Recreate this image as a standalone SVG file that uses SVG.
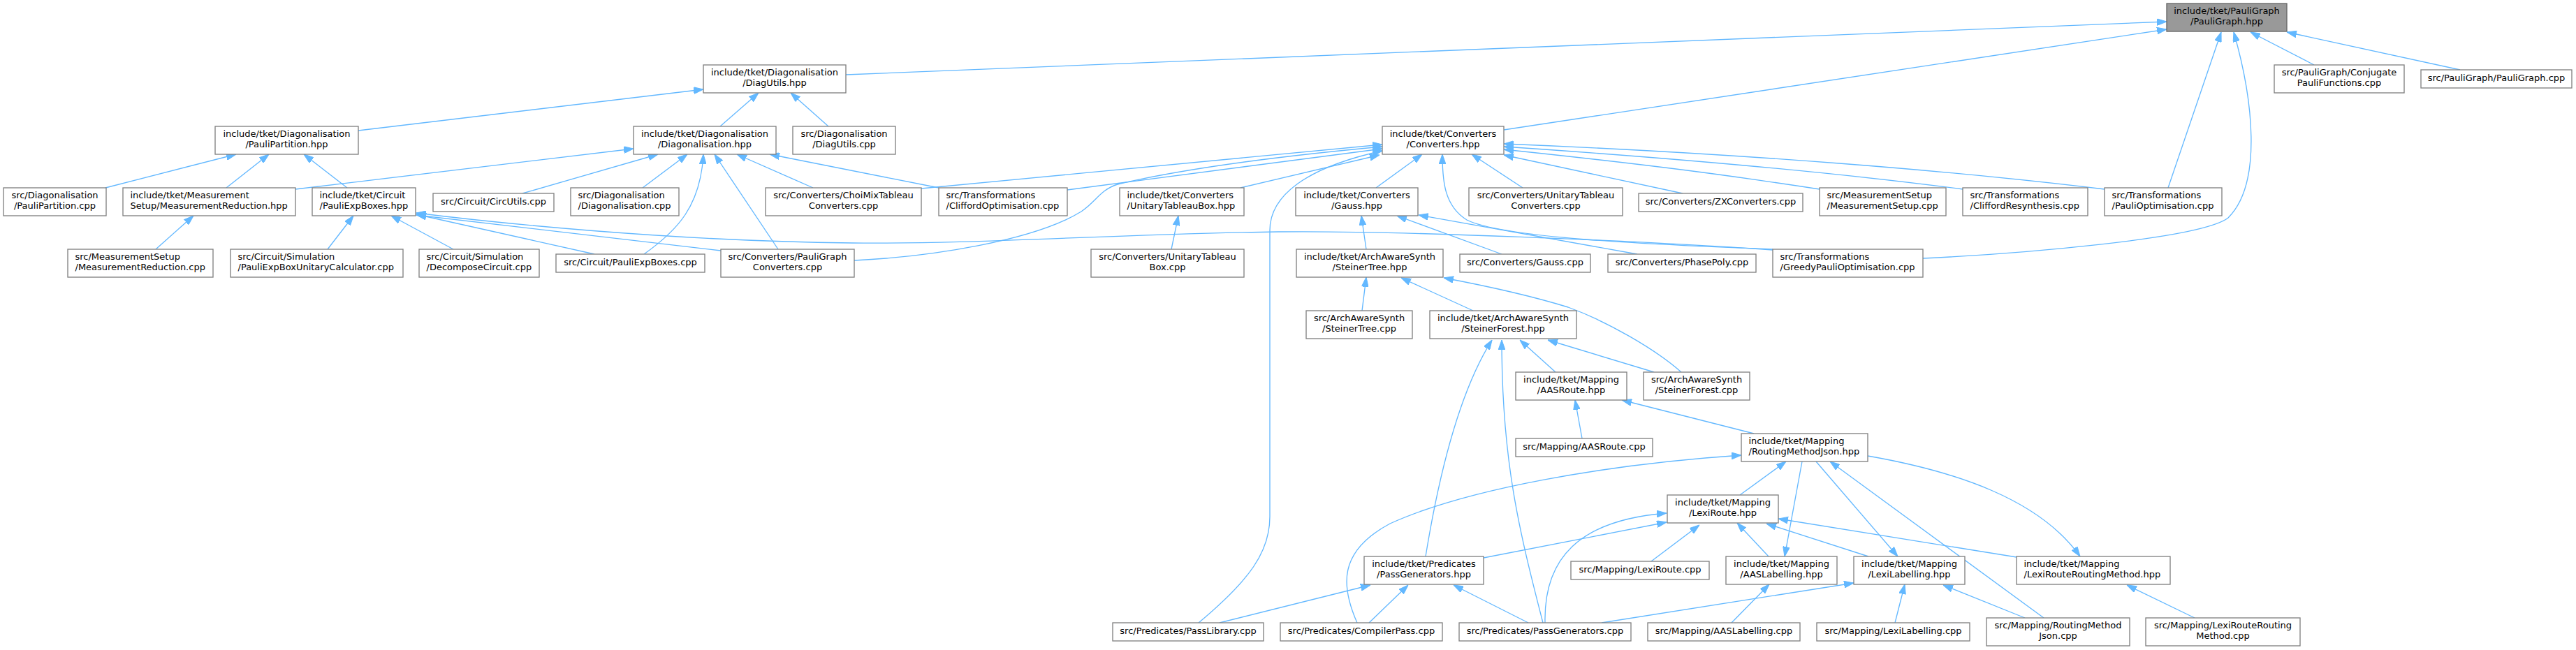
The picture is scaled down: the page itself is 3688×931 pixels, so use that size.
<svg xmlns="http://www.w3.org/2000/svg" width="3688" height="931" viewBox="0 0 3688 931">
<style>
.n rect{fill:#fff;stroke:#808080;stroke-width:1.33}
.m rect{fill:#999;stroke:#666;stroke-width:1.33}
text{font-family:"DejaVu Sans",sans-serif;font-size:13px;fill:#000}
.c text{text-anchor:middle}
.l text{text-anchor:start}
#edges path{fill:none;stroke:#63b8ff;stroke-width:1.33;marker-end:url(#a)}
</style>
<defs>
<marker id="a" markerUnits="userSpaceOnUse" markerWidth="14" markerHeight="10" refX="13.3" refY="4.65" orient="auto" viewBox="0 0 13.3 9.3">
<path d="M0,0 L13.3,4.65 L0,9.3 z" fill="#63b8ff" stroke="#63b8ff" stroke-width="1"/>
</marker>
</defs>
<rect width="3688" height="931" fill="#fff"/>
<g id="edges">
<path d="M1211,107 L3102,31"/>
<path d="M2153,186 L3102,42"/>
<path d="M3104,269 L3180,46"/>
<path d="M2753,370 C2880,364 3150,343 3190,312 C3240,262 3225,140 3198,46"/>
<path d="M3313,93 L3222,46"/>
<path d="M3522,100 L3274,46"/>
<path d="M513,187 L1007,128"/>
<path d="M1031,181 L1086,133"/>
<path d="M1186,181 L1132,133"/>
<path d="M151,269 L338,221"/>
<path d="M324,269 L385,221"/>
<path d="M497,269 L435,221"/>
<path d="M423,271 L907,213"/>
<path d="M748,277 L942,221"/>
<path d="M920,269 L984,221"/>
<path d="M922,364 C970,330 1003,295 1007,221"/>
<path d="M1114,357 L1023,221"/>
<path d="M1164,269 L1055,221"/>
<path d="M1344,269 L1102,221"/>
<path d="M469,357 L506,309"/>
<path d="M649,357 L560,309"/>
<path d="M851,364 L596,307"/>
<path d="M1032,359 L596,308"/>
<path d="M2538,358 C2350,345 2000,330 1830,332 C1600,335 1400,350 1220,348 C950,345 700,318 596,305"/>
<path d="M2538,357 C2350,350 2150,340 2100,315 C2068,295 2065,260 2065,221"/>
<path d="M1223,373 C1330,368 1480,345 1548,303 C1570,288 1575,272 1600,264 C1700,240 1850,222 1979,210"/>
<path d="M1319,270 L1979,207"/>
<path d="M1528,272 L1979,213"/>
<path d="M1776,269 L1975,222"/>
<path d="M1716,892 C1790,830 1818,790 1818,740 L1818,330 C1818,280 1870,240 1979,216"/>
<path d="M1970,269 L2036,221"/>
<path d="M2180,269 L2107,221"/>
<path d="M2409,277 L2153,222"/>
<path d="M2605,271 C2500,255 2400,240 2153,214"/>
<path d="M2810,271 C2650,250 2450,230 2153,210"/>
<path d="M3013,271 C2800,245 2500,220 2153,206"/>
<path d="M1956,357 L1949,309"/>
<path d="M2150,364 L2000,309"/>
<path d="M2344,364 L2031,308"/>
<path d="M1950,445 L1956,397"/>
<path d="M2109,445 L2006,398"/>
<path d="M2407,533 C2370,500 2300,460 2245,440 C2180,420 2120,408 2067,398"/>
<path d="M2368,533 L2216,487"/>
<path d="M2227,533 L2176,487"/>
<path d="M2041,797 C2060,680 2090,560 2136,487"/>
<path d="M2209,892 C2175,760 2150,660 2150,487"/>
<path d="M2265,628 L2255,573"/>
<path d="M2511,621 L2322,573"/>
<path d="M1943,892 C1920,840 1915,790 1990,750 C2100,700 2300,665 2493,652"/>
<path d="M2491,709 L2557,661"/>
<path d="M2580,661 L2555,797"/>
<path d="M2600,661 L2717,797"/>
<path d="M2674,653 C2800,675 2920,715 2978,797"/>
<path d="M2926,885 L2620,661"/>
<path d="M2532,797 L2487,749"/>
<path d="M2675,797 L2529,750"/>
<path d="M2887,798 L2546,743"/>
<path d="M2479,892 L2533,837"/>
<path d="M2293,892 L2654,835"/>
<path d="M2713,892 L2727,837"/>
<path d="M2899,885 L2782,838"/>
<path d="M3142,885 L3045,838"/>
<path d="M2124,799 L2386,748"/>
<path d="M2212,892 C2210,800 2260,745 2386,735"/>
<path d="M2364,804 L2433,752"/>
<path d="M1746,892 L1962,838"/>
<path d="M1960,892 L2016,838"/>
<path d="M2188,892 L2081,838"/>
<path d="M1677,357 L1687,309"/>
<path d="M223,357 L277,309"/>
</g>
<g id="n1" class="m c"><rect x="3102" y="5" width="172" height="40"/><text x="3188" y="20.3">include/tket/PauliGraph</text><text x="3188" y="35">/PauliGraph.hpp</text></g>
<g id="n2" class="n c"><rect x="1007" y="93" width="204" height="40"/><text x="1109" y="108.3">include/tket/Diagonalisation</text><text x="1109" y="123">/DiagUtils.hpp</text></g>
<g id="n3" class="n c"><rect x="3256" y="93" width="186" height="40"/><text x="3349" y="108.3">src/PauliGraph/Conjugate</text><text x="3349" y="123">PauliFunctions.cpp</text></g>
<g id="n4" class="n c"><rect x="3466" y="100" width="216" height="26"/><text x="3574" y="116">src/PauliGraph/PauliGraph.cpp</text></g>
<g id="n5" class="n c"><rect x="308" y="181" width="205" height="40"/><text x="410.5" y="196.3">include/tket/Diagonalisation</text><text x="410.5" y="211">/PauliPartition.hpp</text></g>
<g id="n6" class="n c"><rect x="907" y="181" width="204" height="40"/><text x="1009" y="196.3">include/tket/Diagonalisation</text><text x="1009" y="211">/Diagonalisation.hpp</text></g>
<g id="n7" class="n c"><rect x="1135" y="181" width="147" height="40"/><text x="1208.5" y="196.3">src/Diagonalisation</text><text x="1208.5" y="211">/DiagUtils.cpp</text></g>
<g id="n8" class="n c"><rect x="1979" y="181" width="174" height="40"/><text x="2066" y="196.3">include/tket/Converters</text><text x="2066" y="211">/Converters.hpp</text></g>
<g id="n9" class="n c"><rect x="5" y="269" width="147" height="40"/><text x="78.5" y="284.3">src/Diagonalisation</text><text x="78.5" y="299">/PauliPartition.cpp</text></g>
<g id="n10" class="n l"><rect x="176" y="269" width="247" height="40"/><text x="186.5" y="284.3">include/tket/Measurement</text><text x="186.5" y="299">Setup/MeasurementReduction.hpp</text></g>
<g id="n11" class="n l"><rect x="447" y="269" width="148" height="40"/><text x="457.5" y="284.3">include/tket/Circuit</text><text x="457.5" y="299">/PauliExpBoxes.hpp</text></g>
<g id="n12" class="n c"><rect x="620" y="277" width="173" height="26"/><text x="706.5" y="293">src/Circuit/CircUtils.cpp</text></g>
<g id="n13" class="n l"><rect x="817" y="269" width="155" height="40"/><text x="827.5" y="284.3">src/Diagonalisation</text><text x="827.5" y="299">/Diagonalisation.cpp</text></g>
<g id="n14" class="n c"><rect x="1096" y="269" width="223" height="40"/><text x="1207.5" y="284.3">src/Converters/ChoiMixTableau</text><text x="1207.5" y="299">Converters.cpp</text></g>
<g id="n15" class="n l"><rect x="1344" y="269" width="184" height="40"/><text x="1354.5" y="284.3">src/Transformations</text><text x="1354.5" y="299">/CliffordOptimisation.cpp</text></g>
<g id="n16" class="n l"><rect x="1603" y="269" width="178" height="40"/><text x="1613.5" y="284.3">include/tket/Converters</text><text x="1613.5" y="299">/UnitaryTableauBox.hpp</text></g>
<g id="n17" class="n c"><rect x="1855" y="269" width="175" height="40"/><text x="1942.5" y="284.3">include/tket/Converters</text><text x="1942.5" y="299">/Gauss.hpp</text></g>
<g id="n18" class="n c"><rect x="2103" y="269" width="220" height="40"/><text x="2213" y="284.3">src/Converters/UnitaryTableau</text><text x="2213" y="299">Converters.cpp</text></g>
<g id="n19" class="n c"><rect x="2346" y="277" width="235" height="26"/><text x="2463.5" y="293">src/Converters/ZXConverters.cpp</text></g>
<g id="n20" class="n l"><rect x="2605" y="269" width="181" height="40"/><text x="2615.5" y="284.3">src/MeasurementSetup</text><text x="2615.5" y="299">/MeasurementSetup.cpp</text></g>
<g id="n21" class="n l"><rect x="2810" y="269" width="179" height="40"/><text x="2820.5" y="284.3">src/Transformations</text><text x="2820.5" y="299">/CliffordResynthesis.cpp</text></g>
<g id="n22" class="n l"><rect x="3013" y="269" width="168" height="40"/><text x="3023.5" y="284.3">src/Transformations</text><text x="3023.5" y="299">/PauliOptimisation.cpp</text></g>
<g id="n23" class="n l"><rect x="97" y="357" width="208" height="40"/><text x="107.5" y="372.3">src/MeasurementSetup</text><text x="107.5" y="387">/MeasurementReduction.cpp</text></g>
<g id="n24" class="n l"><rect x="330" y="357" width="247" height="40"/><text x="340.5" y="372.3">src/Circuit/Simulation</text><text x="340.5" y="387">/PauliExpBoxUnitaryCalculator.cpp</text></g>
<g id="n25" class="n l"><rect x="600" y="357" width="172" height="40"/><text x="610.5" y="372.3">src/Circuit/Simulation</text><text x="610.5" y="387">/DecomposeCircuit.cpp</text></g>
<g id="n26" class="n c"><rect x="796" y="364" width="213" height="26"/><text x="902.5" y="380">src/Circuit/PauliExpBoxes.cpp</text></g>
<g id="n27" class="n c"><rect x="1032" y="357" width="191" height="40"/><text x="1127.5" y="372.3">src/Converters/PauliGraph</text><text x="1127.5" y="387">Converters.cpp</text></g>
<g id="n28" class="n c"><rect x="1562" y="357" width="219" height="40"/><text x="1671.5" y="372.3">src/Converters/UnitaryTableau</text><text x="1671.5" y="387">Box.cpp</text></g>
<g id="n29" class="n c"><rect x="1856" y="357" width="210" height="40"/><text x="1961" y="372.3">include/tket/ArchAwareSynth</text><text x="1961" y="387">/SteinerTree.hpp</text></g>
<g id="n30" class="n c"><rect x="2090" y="364" width="187" height="26"/><text x="2183.5" y="380">src/Converters/Gauss.cpp</text></g>
<g id="n31" class="n c"><rect x="2302" y="364" width="212" height="26"/><text x="2408" y="380">src/Converters/PhasePoly.cpp</text></g>
<g id="n32" class="n l"><rect x="2538" y="357" width="215" height="40"/><text x="2548.5" y="372.3">src/Transformations</text><text x="2548.5" y="387">/GreedyPauliOptimisation.cpp</text></g>
<g id="n33" class="n c"><rect x="1870" y="445" width="152" height="40"/><text x="1946" y="460.3">src/ArchAwareSynth</text><text x="1946" y="475">/SteinerTree.cpp</text></g>
<g id="n34" class="n c"><rect x="2047" y="445" width="210" height="40"/><text x="2152" y="460.3">include/tket/ArchAwareSynth</text><text x="2152" y="475">/SteinerForest.hpp</text></g>
<g id="n35" class="n c"><rect x="2170" y="533" width="159" height="40"/><text x="2249.5" y="548.3">include/tket/Mapping</text><text x="2249.5" y="563">/AASRoute.hpp</text></g>
<g id="n36" class="n c"><rect x="2353" y="533" width="152" height="40"/><text x="2429" y="548.3">src/ArchAwareSynth</text><text x="2429" y="563">/SteinerForest.cpp</text></g>
<g id="n37" class="n c"><rect x="2170" y="628" width="196" height="26"/><text x="2268" y="644">src/Mapping/AASRoute.cpp</text></g>
<g id="n38" class="n l"><rect x="2493" y="621" width="181" height="40"/><text x="2503.5" y="636.3">include/tket/Mapping</text><text x="2503.5" y="651">/RoutingMethodJson.hpp</text></g>
<g id="n39" class="n c"><rect x="2387" y="709" width="159" height="40"/><text x="2466.5" y="724.3">include/tket/Mapping</text><text x="2466.5" y="739">/LexiRoute.hpp</text></g>
<g id="n40" class="n c"><rect x="1953" y="797" width="171" height="40"/><text x="2038.5" y="812.3">include/tket/Predicates</text><text x="2038.5" y="827">/PassGenerators.hpp</text></g>
<g id="n41" class="n c"><rect x="2249" y="804" width="198" height="26"/><text x="2348" y="820">src/Mapping/LexiRoute.cpp</text></g>
<g id="n42" class="n c"><rect x="2471" y="797" width="159" height="40"/><text x="2550.5" y="812.3">include/tket/Mapping</text><text x="2550.5" y="827">/AASLabelling.hpp</text></g>
<g id="n43" class="n c"><rect x="2654" y="797" width="159" height="40"/><text x="2733.5" y="812.3">include/tket/Mapping</text><text x="2733.5" y="827">/LexiLabelling.hpp</text></g>
<g id="n44" class="n l"><rect x="2887" y="797" width="220" height="40"/><text x="2897.5" y="812.3">include/tket/Mapping</text><text x="2897.5" y="827">/LexiRouteRoutingMethod.hpp</text></g>
<g id="n45" class="n c"><rect x="1593" y="892" width="216" height="26"/><text x="1701" y="908">src/Predicates/PassLibrary.cpp</text></g>
<g id="n46" class="n c"><rect x="1833" y="892" width="232" height="26"/><text x="1949" y="908">src/Predicates/CompilerPass.cpp</text></g>
<g id="n47" class="n c"><rect x="2089" y="892" width="246" height="26"/><text x="2212" y="908">src/Predicates/PassGenerators.cpp</text></g>
<g id="n48" class="n c"><rect x="2359" y="892" width="218" height="26"/><text x="2468" y="908">src/Mapping/AASLabelling.cpp</text></g>
<g id="n49" class="n c"><rect x="2601" y="892" width="219" height="26"/><text x="2710.5" y="908">src/Mapping/LexiLabelling.cpp</text></g>
<g id="n50" class="n c"><rect x="2844" y="885" width="205" height="40"/><text x="2946.5" y="900.3">src/Mapping/RoutingMethod</text><text x="2946.5" y="915">Json.cpp</text></g>
<g id="n51" class="n c"><rect x="3072" y="885" width="221" height="40"/><text x="3182.5" y="900.3">src/Mapping/LexiRouteRouting</text><text x="3182.5" y="915">Method.cpp</text></g>
</svg>
